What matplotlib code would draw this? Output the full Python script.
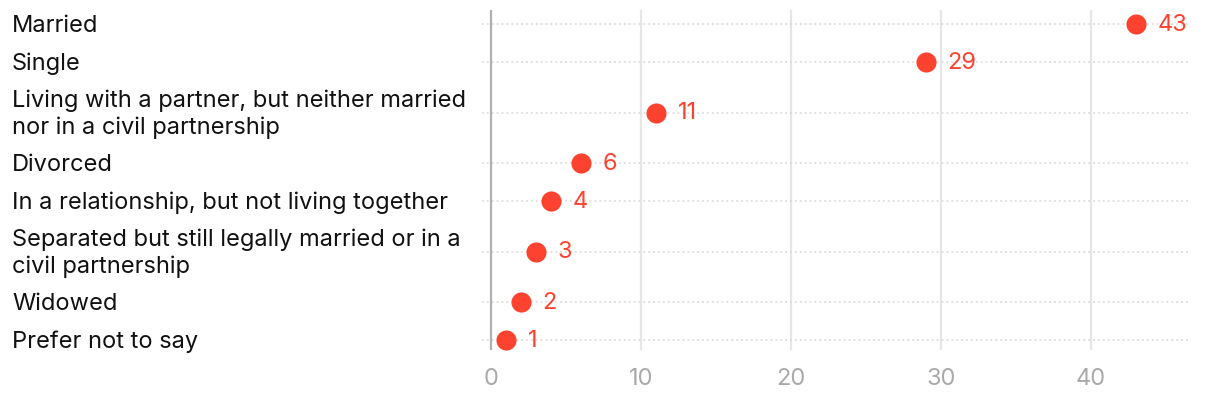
import matplotlib.pyplot as plt
from matplotlib.transforms import blended_transform_factory

plt.rcParams['font.family'] = ['Inter', 'DejaVu Sans']

categories = [
    'Married',
    'Single',
    'Living with a partner, but neither married\nnor in a civil partnership',
    'Divorced',
    'In a relationship, but not living together',
    'Separated but still legally married or in a\ncivil partnership',
    'Widowed',
    'Prefer not to say',
]
values = [43, 29, 11, 6, 4, 3, 2, 1]
x_ticks = [0, 10, 20, 30, 40]

red = '#fd4330'
fig = plt.figure(figsize=(12.2, 4), dpi=100)
W, H = 1220, 400
ax = fig.add_axes([482 / W, 1 - 350 / H, 707 / W, 340 / H])

# row heights depend on how many lines the label needs
row_h = {1: 38, 2: 63}
ypos = []
acc = 0
for c in categories:
    h = row_h[c.count('\n') + 1]
    ypos.append(acc + h / 2)
    acc += h

ax.set_xlim(-0.6, 46.53)
ax.set_ylim(345, 5)

for x in x_ticks[1:]:
    ax.axvline(x, color='#e6e6e6', lw=1.6, zorder=0)
ax.axvline(0, color='#b0b0b0', lw=1.6, zorder=1)
for y in ypos:
    ax.axhline(y, color='#d8d8d8', lw=1.1, ls=(0, (1.2, 2)), zorder=0)

ax.scatter(values, ypos, s=210, color=red, zorder=3, linewidths=0)
for v, y in zip(values, ypos):
    ax.annotate(str(v), (v, y), xytext=(15.5, -0.5), textcoords='offset points',
                va='center', ha='left', color=red, fontsize=17)

trans = blended_transform_factory(fig.transFigure, ax.transData)
for c, y in zip(categories, ypos):
    ax.annotate(c, (12 / W, y), xycoords=trans, xytext=(0, -1.5),
                textcoords='offset points', ha='left', va='center',
                fontsize=17, color='#111111', linespacing=1.24)

ax.set_yticks([])
ax.set_xticks(x_ticks)
ax.tick_params(axis='x', length=0, pad=13, labelsize=17, labelcolor='#aaaaaa')
for s in ax.spines.values():
    s.set_visible(False)

fig.savefig('out.png', dpi=100)
